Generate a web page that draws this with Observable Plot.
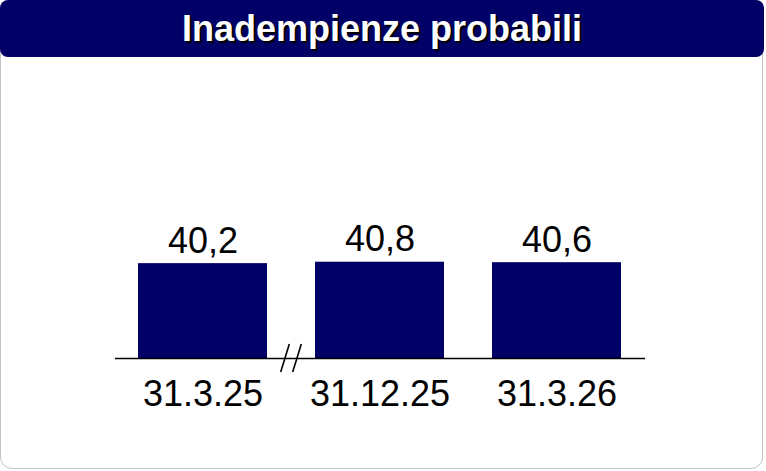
<!DOCTYPE html>
<html>
<head>
<meta charset="utf-8">
<script src="https://cdn.jsdelivr.net/npm/d3@7"></script>
<script src="https://cdn.jsdelivr.net/npm/@observablehq/plot@0.6"></script>
<style>
  html, body { margin: 0; padding: 0; background: #fff; }
  body { font-family: "Liberation Sans", Arial, sans-serif; }
  #wrap { position: relative; width: 766px; height: 471px; overflow: hidden; }
  #card {
    position: absolute; left: 0; top: 0; width: 763px; height: 469px;
    box-sizing: border-box; border: 1.5px solid #c4c4c4; border-radius: 12px;
  }
  #title {
    position: relative; width: 764px; height: 57px; background: #000066;
    border-radius: 8px; color: #fff; font-weight: bold; font-size: 36px;
    line-height: 57px; text-align: center; text-shadow: 2px 2px 0 #000;
  }
  #chart { position: relative; }
  #chart svg { display: block; }
</style>
</head>
<body>
<div id="wrap">
  <div id="card"></div>
  <div id="title">Inadempienze probabili</div>
  <div id="chart"></div>
</div>
<script>
// Reference dates and values (billions)
const periods = ["31.3.25", "31.12.25", "31.3.26"];
const values = [40.2, 40.8, 40.6];
const valueLabels = ["40,2", "40,8", "40,6"];

const data = periods.map((p, i) => ({period: p, value: values[i], label: valueLabels[i]}));

// Axis break drawn between the first and second period
function axisBreak(before, after) {
  return (index, scales, values, dimensions) => {
    const x = scales.x, y = scales.y;
    const bw = typeof x.bandwidth === "function" ? x.bandwidth() : (scales.scales?.x?.bandwidth ?? 0);
    const cx = (x(before) + bw + x(after)) / 2;
    const cy = y(0);
    const g = d3.create("svg:g").attr("stroke", "#000").attr("stroke-width", 1.6);
    for (const off of [-6, 6]) {
      g.append("line")
        .attr("x1", cx + off - 4.3).attr("y1", cy + 14)
        .attr("x2", cx + off + 4.3).attr("y2", cy - 14);
    }
    return g.node();
  };
}

const chart = Plot.plot({
  width: 766,
  height: 414,
  marginLeft: 115,
  marginRight: 121,
  marginTop: 65,
  marginBottom: 113,
  style: {fontFamily: "'Liberation Sans', Arial, sans-serif", background: "transparent", overflow: "visible"},
  x: {type: "band", domain: periods, paddingInner: 0.27, paddingOuter: 0.132, label: null},
  y: {domain: [0, 100], axis: null},
  marks: [
    Plot.barY(data, {x: "period", y: "value", fill: "#000066"}),
    Plot.ruleY([0], {stroke: "#000", strokeWidth: 1.5}),
    axisBreak(periods[0], periods[1]),
    Plot.text(data, {x: "period", y: "value", text: "label", dy: -11, lineAnchor: "bottom", fontSize: 36, fill: "#000"}),
    Plot.axisX({tickSize: 0, tickPadding: 22, fontSize: 36, fill: "#000", label: null})
  ]
});
document.getElementById("chart").appendChild(chart);
</script>
</body>
</html>
